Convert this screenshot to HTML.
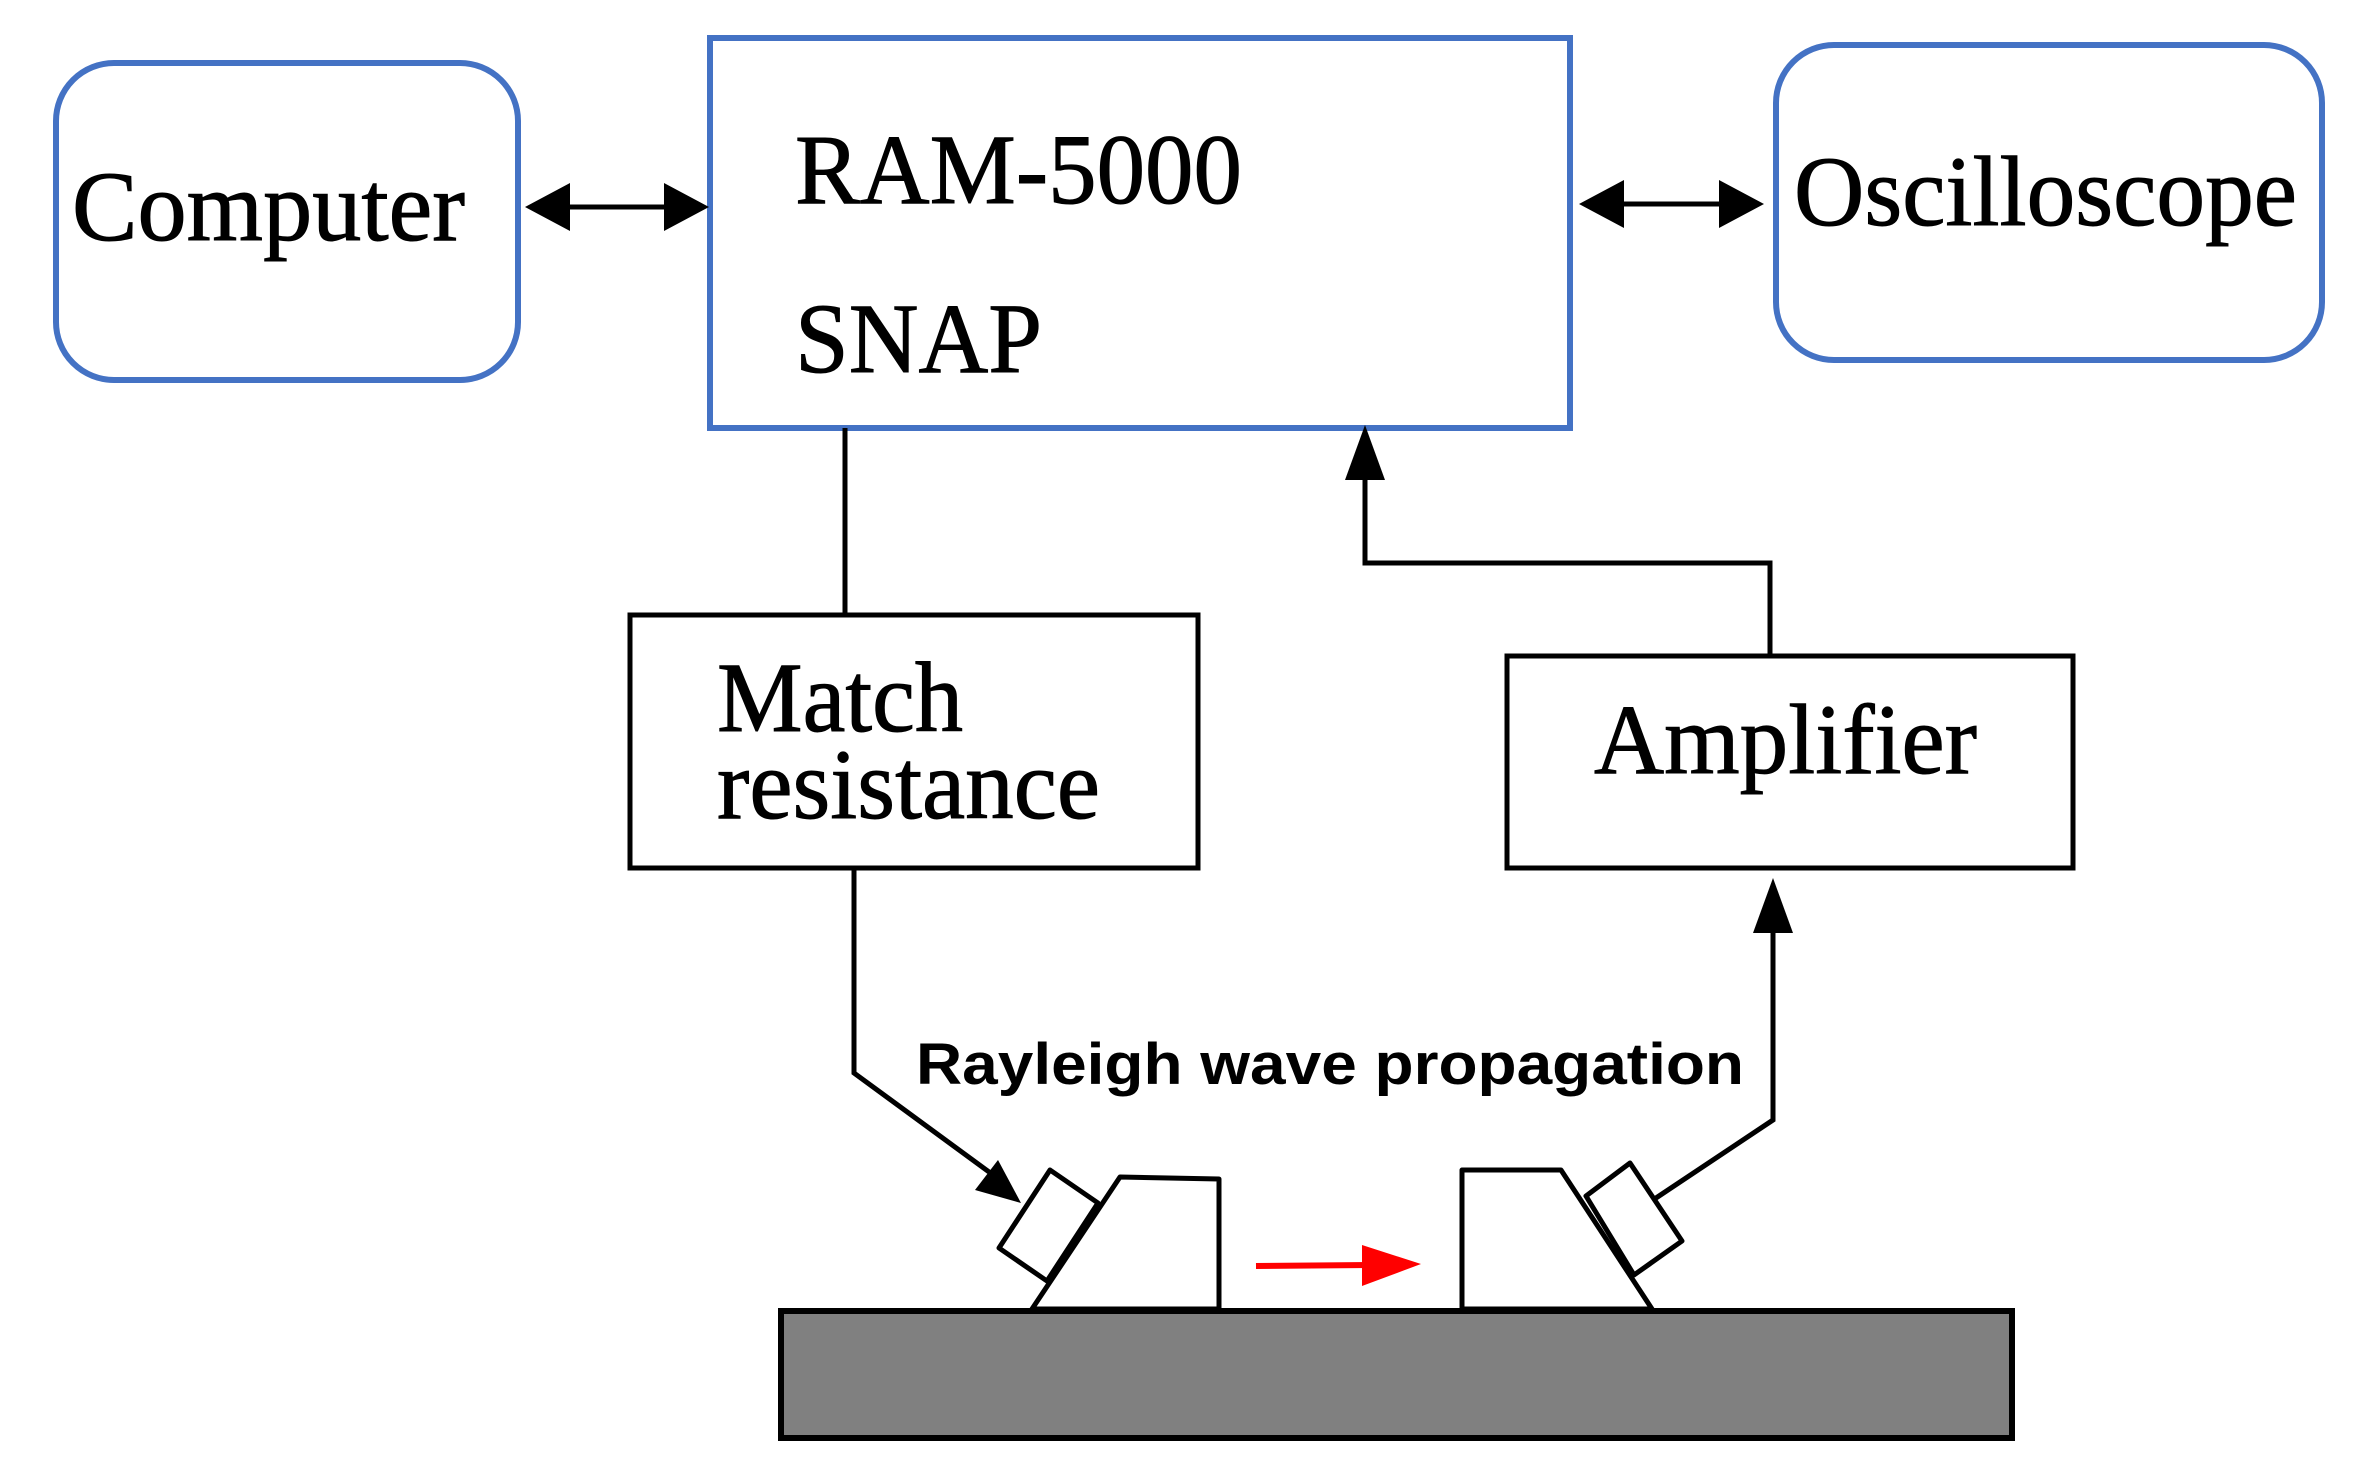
<!DOCTYPE html>
<html><head><style>html,body{margin:0;padding:0;background:#fff}svg{display:block}</style></head>
<body>
<svg width="2354" height="1469" viewBox="0 0 2354 1469" xmlns="http://www.w3.org/2000/svg">
<g fill="none" stroke="#4472c4" stroke-width="6">
<rect x="56" y="63" width="462" height="317" rx="58"/>
<rect x="710" y="38" width="860" height="390"/>
<rect x="1776" y="45" width="546" height="315" rx="58"/>
</g>
<g font-family="Liberation Serif, serif" font-size="100" fill="#000" stroke="#000" stroke-width="1">
<text x="72" y="240" textLength="393" lengthAdjust="spacingAndGlyphs">Computer</text>
<text x="795" y="203" textLength="447" lengthAdjust="spacingAndGlyphs">RAM-5000</text>
<text x="795" y="372" textLength="247" lengthAdjust="spacingAndGlyphs">SNAP</text>
<text x="1794" y="225" textLength="503" lengthAdjust="spacingAndGlyphs">Oscilloscope</text>
<text x="717" y="731" textLength="246" lengthAdjust="spacingAndGlyphs">Match</text>
<text x="717" y="818" textLength="383" lengthAdjust="spacingAndGlyphs">resistance</text>
<text x="1594" y="773" textLength="383" lengthAdjust="spacingAndGlyphs">Amplifier</text>
</g>
<g fill="none" stroke="#000" stroke-width="5">
<rect x="630" y="615" width="568" height="253"/>
<rect x="1507" y="656" width="566" height="212"/>
<line x1="845" y1="428" x2="845" y2="615"/>
<line x1="560" y1="207" x2="675" y2="207"/>
<line x1="1612" y1="204" x2="1730" y2="204"/>
<polyline points="1770,656 1770,563 1365,563 1365,470"/>
<polyline points="854,868 854,1073 1000,1180"/>
<polyline points="1656,1198 1773,1120 1773,920"/>
</g>
<g fill="#000">
<polygon points="525,207 570,183 570,231"/>
<polygon points="709,207 664,183 664,231"/>
<polygon points="1579,204 1624,180 1624,228"/>
<polygon points="1764,204 1719,180 1719,228"/>
<polygon points="1365,425 1345,480 1385,480"/>
<polygon points="1773,878 1753,933 1793,933"/>
<polygon points="1021,1203 975,1190 998,1160"/>
</g>
<rect x="781" y="1311" width="1231" height="127" fill="#808080" stroke="#000" stroke-width="6"/>
<g fill="#fff" stroke="#000" stroke-width="5" stroke-linejoin="round">
<polygon points="1120,1177 1219,1179 1219,1309 1032,1309"/>
<polygon points="1050,1170 1098,1203 1047,1281 999,1248"/>
<polygon points="1462,1170 1561,1170 1652,1309 1462,1309"/>
<polygon points="1630,1163 1586,1196 1634,1275 1682,1241"/>
</g>
<line x1="1256" y1="1266" x2="1370" y2="1265" stroke="#f00" stroke-width="6"/>
<polygon points="1421,1264 1362,1245 1362,1286" fill="#f00"/>
<text x="916" y="1084" font-family="Liberation Sans, sans-serif" font-weight="bold" font-size="58" fill="#000" textLength="828" lengthAdjust="spacingAndGlyphs">Rayleigh wave propagation</text>
</svg>
</body></html>
